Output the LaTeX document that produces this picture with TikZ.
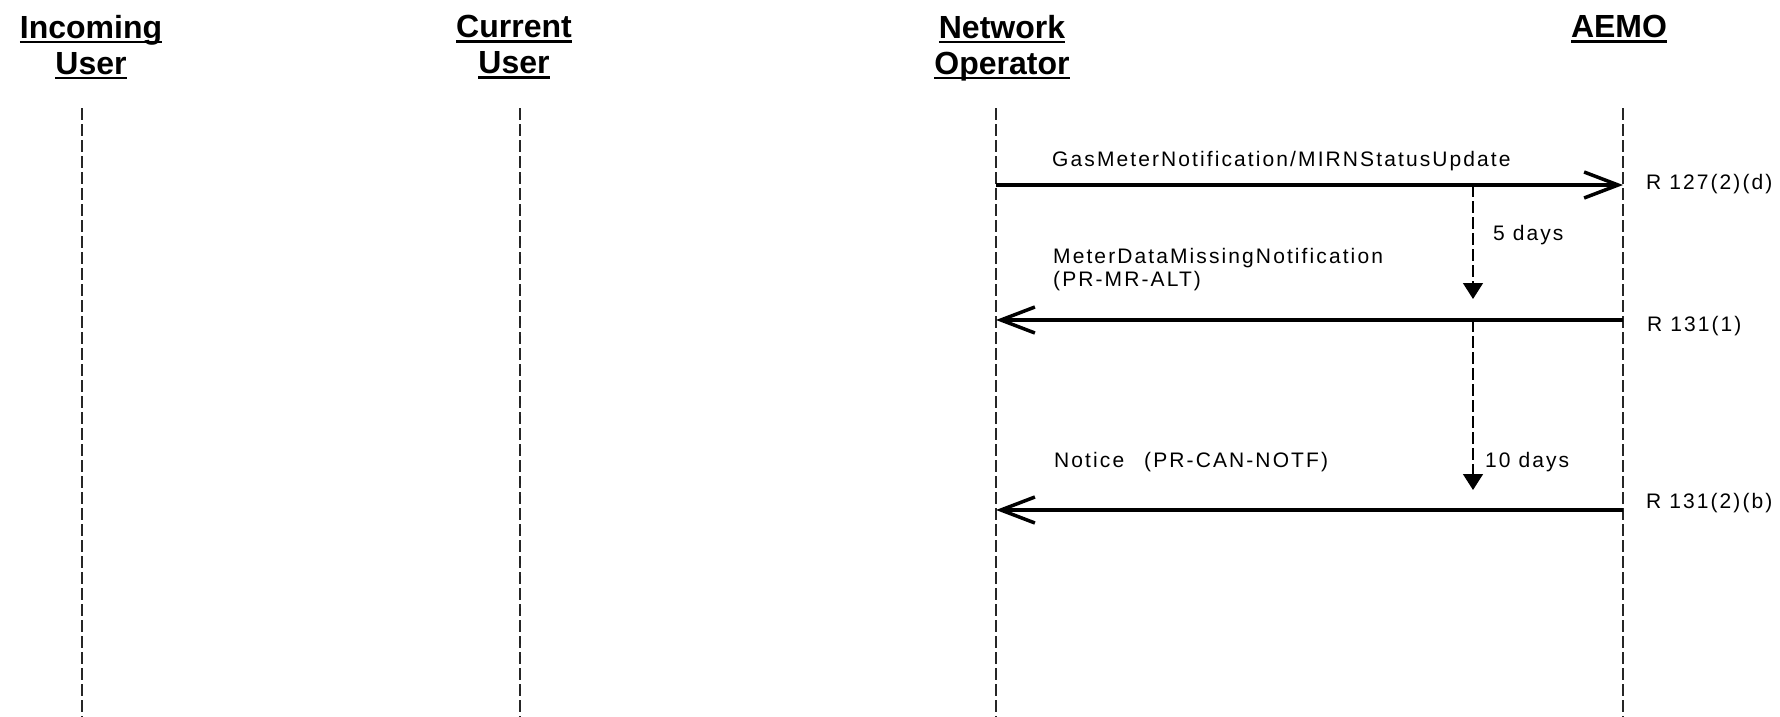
\documentclass[tikz,border=0pt]{standalone}
\usepackage{fontspec}
\setmainfont{Liberation Sans}
\newfontfamily\msgfont[LetterSpace=10]{Liberation Sans}
\usetikzlibrary{arrows.meta, positioning}
\newcommand\hdrul[1]{\setbox0\hbox{#1}\rlap{\rule[-5pt]{\wd0}{2.5pt}}\box0}
\tikzset{
    header/.style={
        anchor=north, inner sep=0pt, align=center,
        font=\fontsize{32}{36}\selectfont\bfseries
    },
    lifeline/.style={
        line width=1.5pt, draw=black!85, dash pattern=on 12pt off 4pt
    },
    msg/.style={
        line width=4pt, -{Straight Barb[length=34pt, width=26pt, line width=3.5pt]}
    },
    timer/.style={
        line width=1.5pt, dash pattern=on 12pt off 4pt,
        -{Triangle[length=16pt, width=20pt]}
    },
    msglabel/.style={
        inner sep=0pt, align=left,
        font=\msgfont\fontsize{21}{23}\selectfont
    }
}

\begin{document}
\begin{tikzpicture}[x=1pt, y=-1pt]
    \useasboundingbox (0,0) rectangle (1780,717);

    % ── Headers ──
    \node[header] (incoming) at (91,15)   {\hdrul{Incoming}\\\hdrul{User}};
    \node[header] (current)  at (514,15)  {\hdrul{Current}\\\hdrul{User}};
    \node[header] (netop)    at (1002,15) {\hdrul{Network}\\\hdrul{Operator}};
    \node[header] (aemo)     at (1619,15) {\hdrul{AEMO}};

    % ── Lifelines ──
    \coordinate (incoming-top) at (82,108);   \coordinate (incoming-bot) at (82,717);
    \coordinate (current-top)  at (520,108);  \coordinate (current-bot)  at (520,717);
    \coordinate (netop-top)    at (996,108);  \coordinate (netop-bot)    at (996,717);
    \coordinate (aemo-top)     at (1623,108); \coordinate (aemo-bot)     at (1623,717);
    \draw[lifeline] (incoming-top) -- (incoming-bot);
    \draw[lifeline] (current-top)  -- (current-bot);
    \draw[lifeline] (netop-top)    -- (netop-bot);
    \draw[lifeline] (aemo-top)     -- (aemo-bot);

    % ── Messages ──
    \coordinate (netop-m1) at (996,185);  \coordinate (aemo-m1) at (1623,185);
    \coordinate (netop-m2) at (996,320);  \coordinate (aemo-m2) at (1623,320);
    \coordinate (netop-m3) at (996,510);  \coordinate (aemo-m3) at (1623,510);
    \draw[msg] (netop-m1) -- (aemo-m1);
    \draw[msg] (aemo-m2)  -- (netop-m2);
    \draw[msg] (aemo-m3)  -- (netop-m3);

    % ── Timers ──
    \coordinate (timer1-top) at (1473,185); \coordinate (timer1-end) at (1473,299);
    \coordinate (timer2-top) at (1473,320); \coordinate (timer2-end) at (1473,490);
    \draw[timer] (timer1-top) -- (timer1-end);
    \draw[timer] (timer2-top) -- (timer2-end);

    % ── Labels ──
    \node[msglabel, anchor=base west] (lbl-m1) at (1052,166) {GasMeterNotification/MIRNStatusUpdate};
    \node[msglabel, anchor=north west] (lbl-m2) at (1053,248) {MeterDataMissingNotification\\(PR-MR-ALT)};
    \node[msglabel, anchor=base west] (lbl-m3) at (1054,467) {Notice\hspace{20pt}(PR-CAN-NOTF)};
    \node[msglabel, anchor=base west] (rule-m1) at (1646,189) {R 127(2)(d)};
    \node[msglabel, anchor=base west] (rule-m2) at (1647,331) {R 131(1)};
    \node[msglabel, anchor=base west] (rule-m3) at (1646,508) {R 131(2)(b)};
    \node[msglabel, anchor=base west] (lbl-t1) at (1493,240) {5 days};
    \node[msglabel, anchor=base west] (lbl-t2) at (1485,467) {10 days};

\end{tikzpicture}
\end{document}
